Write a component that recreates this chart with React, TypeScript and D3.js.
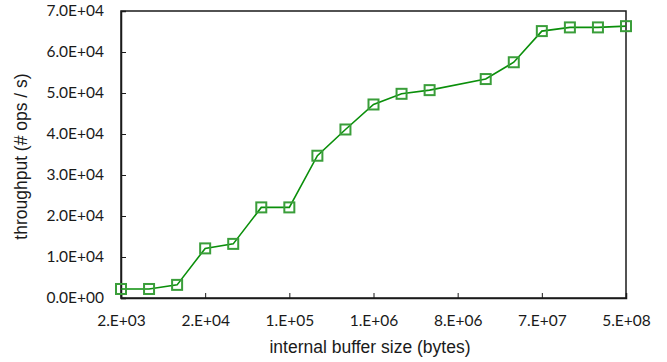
import { useEffect, useRef } from "react";
import * as d3 from "d3";

// buffer sizes are powers of two, 2^11 .. 2^29
const exponents = d3.range(11, 30);
const tickExponents = [11, 14, 17, 20, 23, 26, 29];
const tickLabels = ["2.E+03", "2.E+04", "1.E+05", "1.E+06", "8.E+06", "7.E+07", "5.E+08"];
// measured throughput; 2^23 has no measurement
const throughput: (number | null)[] = [
  2200, 2200, 3200, 12100, 13200, 22100, 22100, 34700, 41100, 47200,
  49800, 50700, null, 53400, 57500, 65100, 66000, 66000, 66300,
];
const yTicks = [0, 10000, 20000, 30000, 40000, 50000, 60000, 70000];

export default function App() {
  const ref = useRef<SVGSVGElement>(null);

  useEffect(() => {
    document.body.style.margin = "0";
    if (!ref.current) return;
    const svg = d3.select(ref.current);
    svg.selectAll("*").remove();

    const margin = { top: 11, right: 41, bottom: 64, left: 121 };
    const width = 667;
    const height = 362;
    const innerW = width - margin.left - margin.right;
    const innerH = height - margin.top - margin.bottom;

    const g = svg.append("g").attr("transform", `translate(${margin.left},${margin.top})`);

    const x = d3.scaleLinear().domain([11, 29]).range([0, innerW]);
    const y = d3.scaleLinear().domain([0, 70000]).range([innerH, 0]);

    const tickFont = "Lato, 'Open Sans', sans-serif";
    const titleFont = "'Liberation Sans', Arial, sans-serif";

    // frame
    g.append("rect")
      .attr("width", innerW)
      .attr("height", innerH)
      .attr("fill", "none")
      .attr("stroke", "#1a1a1a")
      .attr("stroke-width", 1.5);

    // y axis
    const yAxis = g
      .append("g")
      .call(
        d3
          .axisLeft(y)
          .tickValues(yTicks)
          .tickSize(-5)
          .tickPadding(17)
          .tickFormat((d) => {
            const v = d as number;
            if (v === 0) return "0.0E+00";
            const e = Math.floor(Math.log10(v));
            return `${(v / 10 ** e).toFixed(1)}E+${String(e).padStart(2, "0")}`;
          })
      );
    yAxis.select(".domain").attr("stroke", "#1a1a1a").attr("stroke-width", 1.5);
    yAxis.selectAll(".tick line").attr("stroke", "#1a1a1a");
    yAxis
      .selectAll("text")
      .style("font-family", tickFont)
      .style("font-size", "15.5px")
      .attr("fill", "#1a1a1a");

    // x axis
    const xAxis = g
      .append("g")
      .attr("transform", `translate(0,${innerH})`)
      .call(
        d3
          .axisBottom(x)
          .tickValues(tickExponents)
          .tickSize(-5)
          .tickPadding(17)
          .tickFormat((_, i) => tickLabels[i])
      );
    xAxis.select(".domain").attr("stroke", "#1a1a1a").attr("stroke-width", 1.5);
    xAxis.selectAll(".tick line").attr("stroke", "#1a1a1a");
    xAxis
      .selectAll("text")
      .style("font-family", tickFont)
      .style("font-size", "15.5px")
      .attr("fill", "#1a1a1a");

    const data = exponents
      .map((e, i) => ({ e, v: throughput[i] }))
      .filter((d) => d.v !== null) as { e: number; v: number }[];

    const line = d3
      .line<{ e: number; v: number }>()
      .x((d) => x(d.e))
      .y((d) => y(d.v));

    g.append("path")
      .datum(data)
      .attr("d", line)
      .attr("fill", "none")
      .attr("stroke", "#0a8f0a")
      .attr("stroke-width", 1.6);

    const s = 10;
    g.selectAll("rect.pt")
      .data(data)
      .join("rect")
      .attr("class", "pt")
      .attr("x", (d) => x(d.e) - s / 2)
      .attr("y", (d) => y(d.v) - s / 2)
      .attr("width", s)
      .attr("height", s)
      .attr("fill", "none")
      .attr("stroke", "#3a9e3a")
      .attr("stroke-width", 2);

    // axis titles
    svg
      .append("text")
      .attr("x", 370)
      .attr("y", 353)
      .attr("text-anchor", "middle")
      .style("font-family", titleFont)
      .style("font-size", "17.5px")
      .attr("fill", "#1a1a1a")
      .text("internal buffer size (bytes)");

    svg
      .append("text")
      .attr("transform", `translate(27,${margin.top + innerH / 2 + 2}) rotate(-90)`)
      .attr("text-anchor", "middle")
      .style("font-family", titleFont)
      .style("font-size", "17.5px")
      .attr("fill", "#1a1a1a")
      .text("throughput (# ops / s)");
  }, []);

  return <svg ref={ref} width={667} height={362} style={{ display: "block" }} />;
}
